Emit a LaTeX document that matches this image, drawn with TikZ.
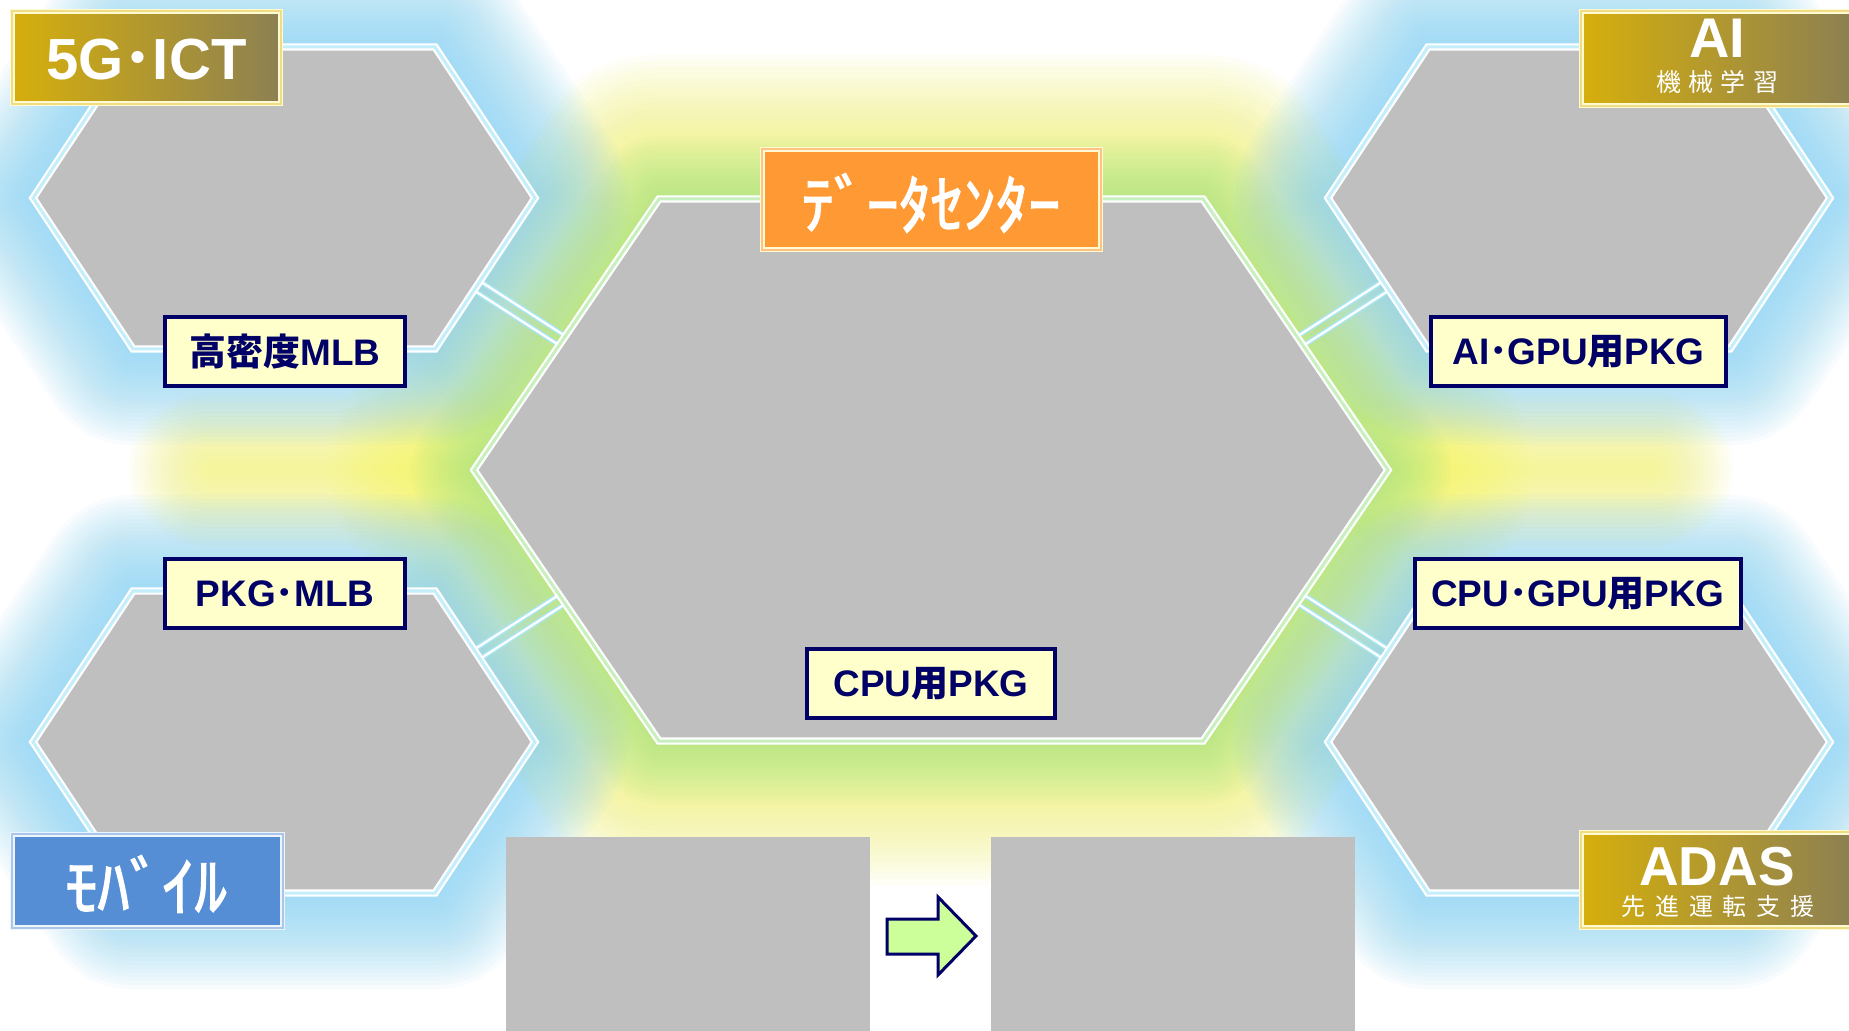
\documentclass[tikz,border=0pt]{standalone}
\usepackage{fontspec}
\setmainfont{Liberation Sans}
\newfontfamily\jp{Noto Sans CJK JP}
\newfontfamily\jpk[BoldFont={Noto Sans CJK JP}, BoldFeatures={FakeBold=2}]{Noto Sans CJK JP}
\definecolor{hexgray}{RGB}{191,191,191}
\definecolor{navy}{RGB}{0,0,102}
\definecolor{labelfill}{RGB}{255,255,204}
\definecolor{goldL}{RGB}{214,175,12}
\definecolor{goldR}{RGB}{140,128,82}
\definecolor{cream}{RGB}{255,250,210}
\definecolor{orangebox}{RGB}{255,153,51}
\definecolor{bluebox}{RGB}{85,142,213}
\definecolor{cyanglow}{RGB}{135,212,245}
\definecolor{yellowglow}{RGB}{245,245,105}
\definecolor{greenglow}{RGB}{150,225,150}
\definecolor{arrowfill}{RGB}{204,255,153}
\definecolor{bridgeC}{RGB}{170,230,245}
\definecolor{gapC}{RGB}{195,238,250}
\definecolor{gapG}{RGB}{200,240,190}
\newcommand\defhex[6]{%
  \coordinate (#1-1) at ({#2-#4},{#3});
  \coordinate (#1-2) at ({#2-#5},{#3-#6});
  \coordinate (#1-3) at ({#2+#5},{#3-#6});
  \coordinate (#1-4) at ({#2+#4},{#3});
  \coordinate (#1-5) at ({#2+#5},{#3+#6});
  \coordinate (#1-6) at ({#2-#5},{#3+#6});
}
\begin{document}
\begin{tikzpicture}[x=0.01cm, y=-0.01cm,
  glowstroke/.style={line join=round, line cap=round},
  hexfill/.style={fill=hexgray},
  hexborder/.style={draw=white, line width=0.022cm, double=#1, double distance=0.03cm},
  bridge/.style={draw=bridgeC, line width=0.014cm, double=white, double distance=0.022cm},
  pkglabel/.style={draw=navy, line width=0.04cm, fill=labelfill, text=navy,
    font=\fontsize{10.5pt}{12pt}\selectfont\bfseries, inner sep=0pt, minimum height=0.69cm},
  goldbox/.style={left color=goldL, right color=goldR, draw=cream, line width=0.012cm,
    double=cream!60!goldL, double distance=0.02cm, inner sep=0pt},
  orangeboxst/.style={fill=orangebox, draw=cream, line width=0.014cm,
    double=orangebox!60!white, double distance=0.02cm, inner sep=0pt},
  blueboxst/.style={fill=bluebox, draw=white!90!bluebox, line width=0.012cm,
    double=bluebox!50!white, double distance=0.02cm, inner sep=0pt},
  whitetxt/.style={text=white, inner sep=0pt},
  grayrect/.style={fill=hexgray},
  arrowst/.style={draw=navy, fill=arrowfill, line width=0.03cm, line join=miter}
]
\path[use as bounding box] (0,0) rectangle (1849,1031);
\clip (0,0) rectangle (1849,1031);
\fill[white] (0,0) rectangle (1849,1031);

\defhex{TL}{284}{198}{251}{151}{151}
\defhex{TR}{1579}{198}{251}{151}{151}
\defhex{BL}{284}{742}{251}{151}{151}
\defhex{BR}{1579}{742}{251}{151}{151}
\defhex{C}{931}{470}{457}{272}{271}

% ---- glows ----
\foreach \k in {1,...,24} {
  \draw[glowstroke, draw=yellowglow, opacity=0.06, line width=\k*1.2mm]
    (C-1)--(C-2)--(C-3)--(C-4)--(C-5)--(C-6)--cycle;
}
\coordinate (YL) at (210,470);
\coordinate (YR) at (1652,470);
\foreach \k in {1,...,18} {
  \draw[glowstroke, draw=yellowglow, opacity=0.05, line width=\k*0.9mm] (C-1)--(YL);
  \draw[glowstroke, draw=yellowglow, opacity=0.05, line width=\k*0.9mm] (C-4)--(YR);
}
\foreach \h in {TL,TR,BL,BR} {
  \foreach \k in {1,...,24} {
    \draw[glowstroke, draw=cyanglow, opacity=0.05, line width=\k*0.8mm]
      (\h-1)--(\h-2)--(\h-3)--(\h-4)--(\h-5)--(\h-6)--cycle;
  }
}
\foreach \k in {1,...,14} {
  \draw[glowstroke, draw=greenglow, opacity=0.055, line width=\k*0.9mm]
    (C-1)--(C-2)--(C-3)--(C-4)--(C-5)--(C-6)--cycle;
}

% ---- bridges ----
\coordinate (b1s) at (476.8,279.1);  \coordinate (b1e) at (566.2,336.7);
\coordinate (b2s) at (470.8,288.3);  \coordinate (b2e) at (560.2,345.9);
\coordinate (b3s) at (476.8,660.9);  \coordinate (b3e) at (566.2,603.3);
\coordinate (b4s) at (470.8,651.7);  \coordinate (b4e) at (560.2,594.1);
\coordinate (b5s) at (1386.2,279.1); \coordinate (b5e) at (1296.8,336.7);
\coordinate (b6s) at (1392.2,288.3); \coordinate (b6e) at (1302.8,345.9);
\coordinate (b7s) at (1386.2,660.9); \coordinate (b7e) at (1296.8,603.3);
\coordinate (b8s) at (1392.2,651.7); \coordinate (b8e) at (1302.8,594.1);
\foreach \i in {1,...,8} { \draw[bridge] (b\i s) -- (b\i e); }

% ---- hexagons ----
\foreach \h in {TL,TR,BL,BR} {
  \fill[hexfill] (\h-1)--(\h-2)--(\h-3)--(\h-4)--(\h-5)--(\h-6)--cycle;
  \draw[hexborder=gapC] (\h-1)--(\h-2)--(\h-3)--(\h-4)--(\h-5)--(\h-6)--cycle;
}
\fill[hexfill] (C-1)--(C-2)--(C-3)--(C-4)--(C-5)--(C-6)--cycle;
\draw[hexborder=gapG] (C-1)--(C-2)--(C-3)--(C-4)--(C-5)--(C-6)--cycle;

% ---- bottom rectangles and arrow ----
\fill[grayrect] (506,837) rectangle (870,1040);
\fill[grayrect] (991,837) rectangle (1355,1040);
\draw[arrowst] (887,919)--(938,919)--(938,897)--(976,936)--(938,975)--(938,954)--(887,954)--cycle;

% ---- category boxes ----
\node[goldbox, minimum width=2.68cm, minimum height=0.92cm] (g5) at (146.5,57.5) {};
\node[whitetxt, anchor=base, font=\fontsize{16.5pt}{18pt}\selectfont\bfseries] (g5t) at (146.5,80) {5G{\jp ･}ICT};

\node[goldbox, minimum width=2.71cm, minimum height=0.94cm] (ai) at (1717,58.5) {};
\node[whitetxt, anchor=base, font=\fontsize{15.9pt}{18pt}\selectfont\bfseries] (ait) at (1717,58) {AI};
\node[whitetxt, anchor=base, font=\jp\fontsize{7.1pt}{8pt}\selectfont] (aisub) at (1717,92)
  {機\hspace{2.1pt}械\hspace{2.1pt}学\hspace{2.1pt}習};

\node[goldbox, minimum width=2.71cm, minimum height=0.95cm] (adas) at (1717,880) {};
\node[whitetxt, anchor=base, font=\fontsize{15.6pt}{18pt}\selectfont\bfseries] (adast) at (1717,885) {ADAS};
\node[whitetxt, anchor=base, font=\jp\fontsize{6.8pt}{8pt}\selectfont] (adassub) at (1718,915.5)
  {先\hspace{2.8pt}進\hspace{2.8pt}運\hspace{2.8pt}転\hspace{2.8pt}支\hspace{2.8pt}援};

\node[blueboxst, minimum width=2.70cm, minimum height=0.93cm] (mob) at (147.5,881) {};
\node[whitetxt, font=\jpk\bfseries\fontsize{18.4pt}{20pt}\selectfont] (mobt) at (146,884) {ﾓﾊﾞｲﾙ};

\node[orangeboxst, minimum width=3.38cm, minimum height=1.00cm] (dc) at (931.5,199.5) {};
\node[whitetxt, font=\jpk\bfseries\fontsize{18.4pt}{20pt}\selectfont] (dct) at (931,203) {ﾃﾞｰﾀｾﾝﾀｰ};

% ---- product labels ----
\node[pkglabel, minimum width=2.40cm] (mlb) at (285,351.5) {{\jp 高密度}MLB};
\node[pkglabel, minimum width=2.40cm] (pkgmlb) at (285,593.5) {PKG{\jp ･}MLB};
\node[pkglabel, minimum width=2.95cm] (aigpu) at (1578.5,351.5) {AI{\jp ･}GPU{\jp 用}PKG};
\node[pkglabel, minimum width=3.26cm] (cpugpu) at (1578,593.5) {CPU{\jp ･}GPU{\jp 用}PKG};
\node[pkglabel, minimum width=2.48cm] (cpu) at (931,683.5) {CPU{\jp 用}PKG};
\end{tikzpicture}
\end{document}
